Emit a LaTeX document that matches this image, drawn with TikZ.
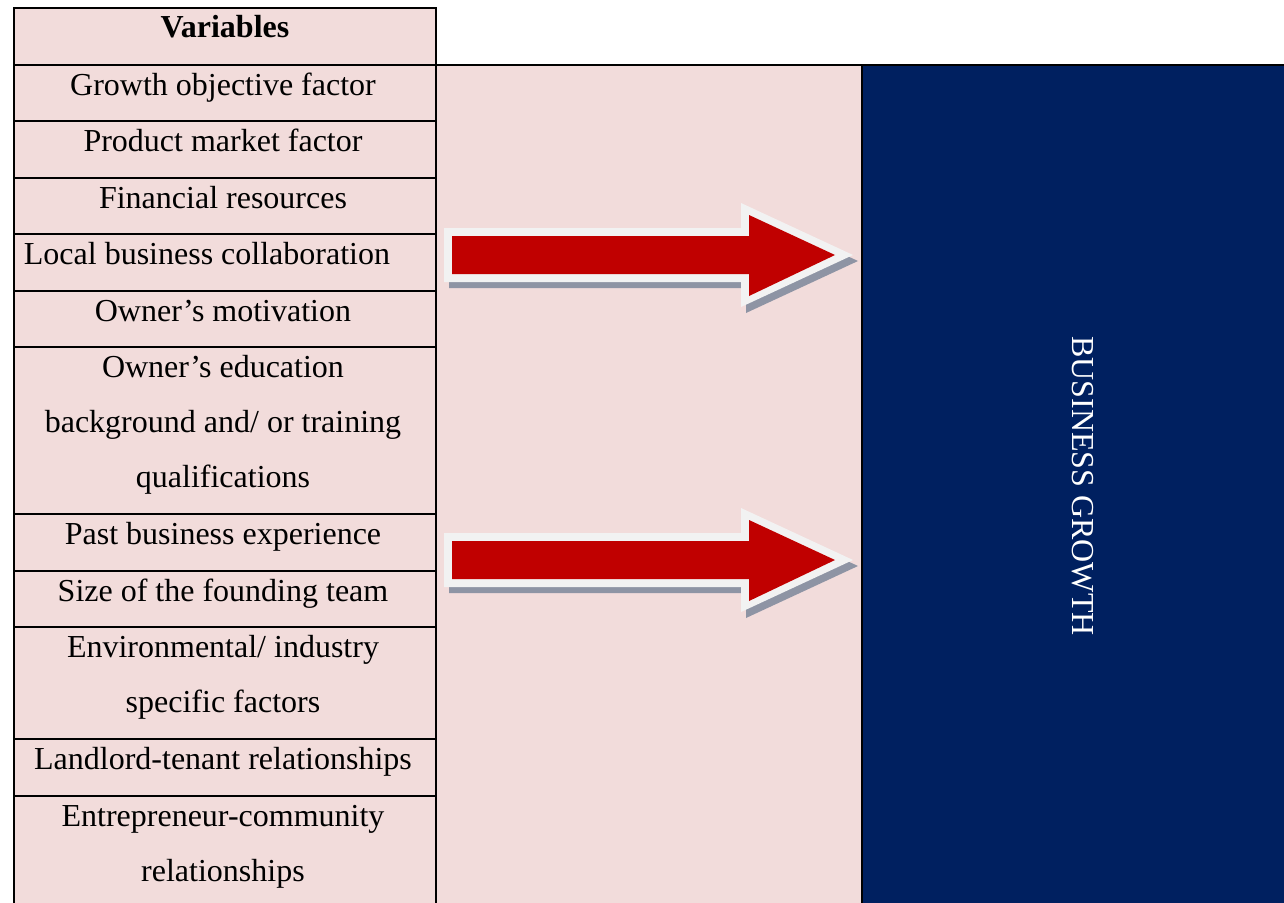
\documentclass[tikz,border=0pt]{standalone}
\usepackage{fontspec}
\setmainfont{Liberation Serif}
\definecolor{cellpink}{HTML}{F2DCDB}
\definecolor{navyblue}{HTML}{002060}
\definecolor{arrowred}{HTML}{C00000}
\definecolor{arrowedge}{HTML}{F2F2F2}
\definecolor{shadowgrey}{HTML}{8E94A4}
\begin{document}
\begin{tikzpicture}[x=1pt,y=-1pt,
  cell/.style={fill=cellpink,draw=black,line width=2pt},
  lbl/.style={anchor=base,inner sep=0pt,font=\fontsize{32}{55}\selectfont},
  rule/.style={draw=black,line width=2pt},
]
\useasboundingbox (0,0) rectangle (1284,902);
\begin{scope}
\clip (0,0) rectangle (1284,902);
\fill[white] (0,0) rectangle (1284,902);
\fill[cellpink] (436,65) rectangle (862,910);
\fill[navyblue] (862,65) rectangle (1290,910);
\draw[rule] (436,65) -- (1290,65);
\draw[rule] (862,65) -- (862,910);
\foreach \a/\b in {8/65,65/121,121/178,178/234,234/291,291/347,347/514,514/571,571/627,627/739,739/796,796/908}
  \draw[cell] (14,\a) rectangle (436,\b);
\end{scope}
% labels
\node[lbl,font=\fontsize{32}{55}\selectfont\bfseries] (hdr) at (225,37) {Variables};
\node[lbl] (v1) at (223,95) {Growth objective factor};
\node[lbl] (v2) at (223,151) {Product market factor};
\node[lbl] (v3) at (223,208) {Financial resources};
\node[lbl] (v4) at (207,264) {Local business collaboration};
\node[lbl] (v5) at (223,321) {Owner’s motivation};
\node[lbl] (v6a) at (223,377) {Owner’s education};
\node[lbl] (v6b) at (223,432) {background and/ or training};
\node[lbl] (v6c) at (223,487) {qualifications};
\node[lbl] (v7) at (223,544) {Past business experience};
\node[lbl] (v8) at (223,601) {Size of the founding team};
\node[lbl] (v9a) at (223,657) {Environmental/ industry};
\node[lbl] (v9b) at (223,712) {specific factors};
\node[lbl] (v10) at (223,769) {Landlord-tenant relationships};
\node[lbl] (v11a) at (223,826) {Entrepreneur-community};
\node[lbl] (v11b) at (223,881) {relationships};
\node[inner sep=0pt,rotate=-90,text=white,font=\fontsize{32}{40}\selectfont] (bg) at (1083,486) {BUSINESS GROWTH};
% arrows
\foreach \dy in {0,305}{
  \begin{scope}[shift={(0,\dy)}]
    \fill[shadowgrey] (449,234) -- (746,234) -- (746,209) -- (858,261) -- (746,313) -- (746,288) -- (449,288) -- cycle;
    \fill[arrowedge] (444,228) -- (741,228) -- (741,203) -- (853,255) -- (741,307) -- (741,282) -- (444,282) -- cycle;
    \fill[arrowred] (452,236) -- (749,236) -- (749,215) -- (835,255) -- (749,296) -- (749,274) -- (452,274) -- cycle;
  \end{scope}
}
\end{tikzpicture}
\end{document}
